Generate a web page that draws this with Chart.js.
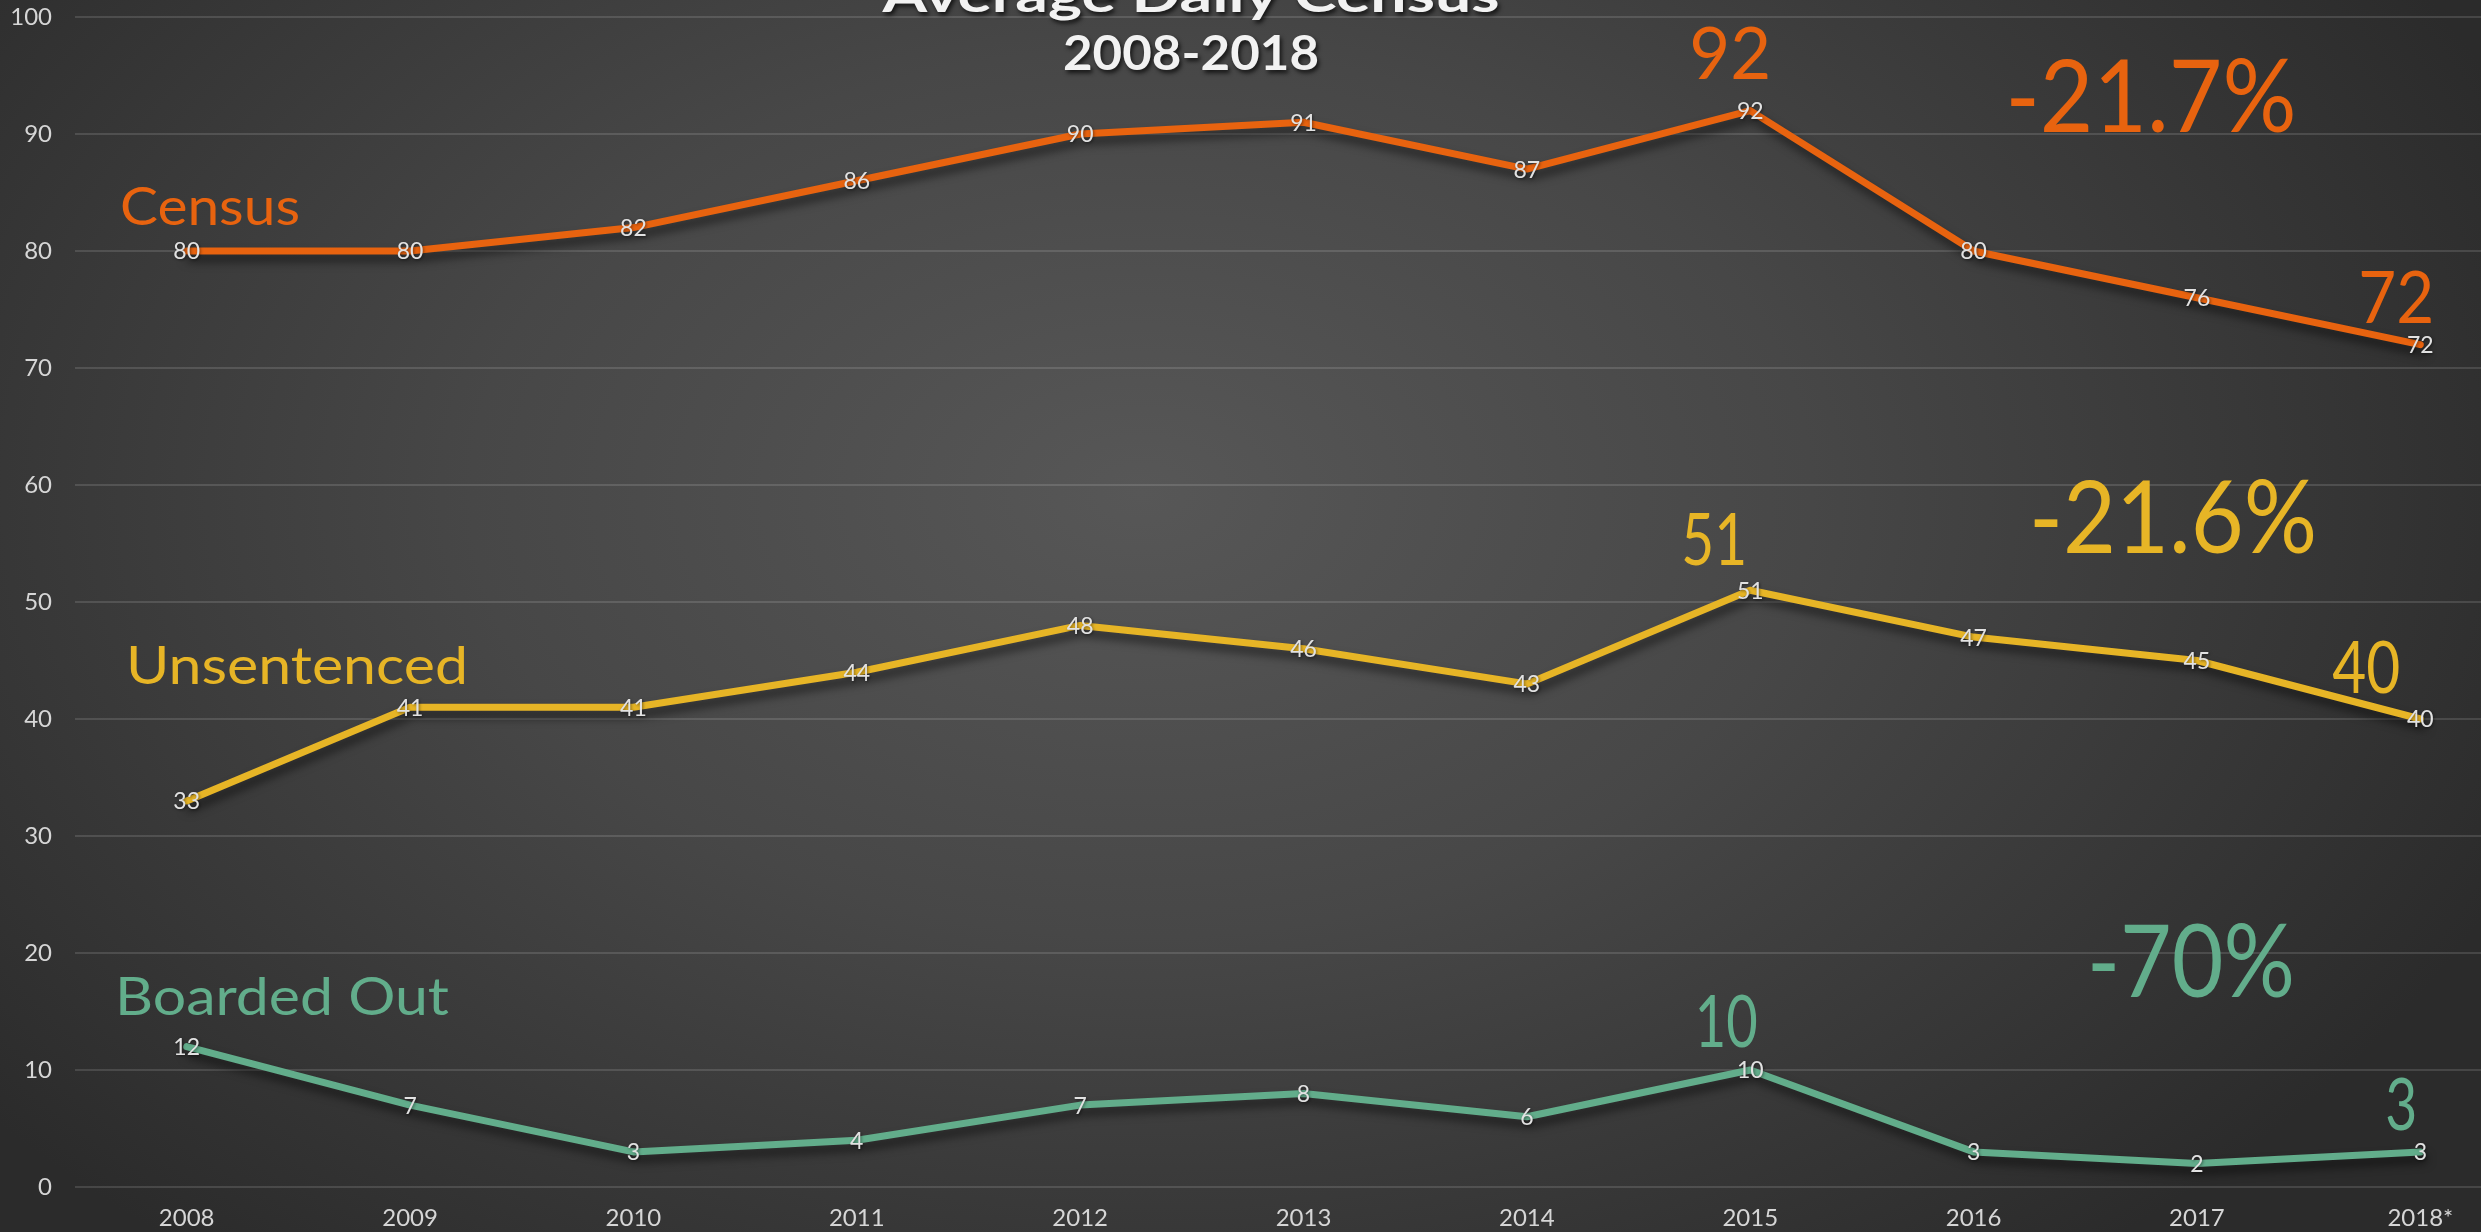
<!DOCTYPE html>
<html>
<head>
<meta charset="utf-8">
<title>Average Daily Census 2008-2018</title>
<script src="https://cdn.jsdelivr.net/npm/chart.js@4.4.1/dist/chart.umd.min.js"></script>
<style>
    html, body {
        margin: 0;
        padding: 0;
        width: 2481px;
        height: 1232px;
        overflow: hidden;
        background: radial-gradient(ellipse 60% 80% at 46% 40%, #575757 0%, #474747 45%, #2b2b2b 100%);
    }
    #chart {
        display: block;
        position: absolute;
        left: 0;
        top: 0;
    }
</style>
</head>
<body>
<canvas id="chart" width="2532" height="1232"></canvas>
<script>
// Chart data
const years = ['2008', '2009', '2010', '2011', '2012', '2013', '2014', '2015', '2016', '2017', '2018*'];
const census = [80, 80, 82, 86, 90, 91, 87, 92, 80, 76, 72];
const unsentenced = [33, 41, 41, 44, 48, 46, 43, 51, 47, 45, 40];
const boardedOut = [12, 7, 3, 4, 7, 8, 6, 10, 3, 2, 3];
const yTicks = [0, 10, 20, 30, 40, 50, 60, 70, 80, 90, 100];
const changes = ['-21.7%', '-21.6%', '-70%'];

const ORANGE = '#e8630f';
const YELLOW = '#e7b526';
const GREEN = '#62ad8b';
const FONT = 'Lato, "Open Sans", sans-serif';

// Draw text, optionally squeezed/stretched to a target width
function drawText(ctx, text, x, y, size, color, opts) {
    opts = opts || {};
    ctx.save();
    ctx.font = (opts.weight || 'normal') + ' ' + size + 'px ' + FONT;
    ctx.fillStyle = color;
    ctx.textBaseline = 'alphabetic';
    ctx.textAlign = 'left';
    if (opts.shadow) {
        ctx.shadowColor = 'rgba(0,0,0,0.7)';
        ctx.shadowOffsetX = 2;
        ctx.shadowOffsetY = 3;
        ctx.shadowBlur = 4;
    }
    const w = ctx.measureText(text).width;
    const sx = opts.width ? opts.width / w : 1;
    const drawnW = w * sx;
    let left = x;
    if (opts.align === 'center') left = x - drawnW / 2;
    if (opts.align === 'right') left = x - drawnW;
    ctx.translate(left, y);
    ctx.scale(sx, 1);
    ctx.fillText(text, 0, 0);
    ctx.restore();
}

// Soft drop shadow under the lines
const lineShadow = {
    id: 'lineShadow',
    beforeDatasetsDraw(chart) {
        const ctx = chart.ctx;
        ctx.save();
        ctx.shadowColor = 'rgba(0,0,0,0.55)';
        ctx.shadowBlur = 10;
        ctx.shadowOffsetX = 3;
        ctx.shadowOffsetY = 7;
    },
    afterDatasetsDraw(chart) {
        chart.ctx.restore();
    }
};

// Value labels centred on each point
const pointLabels = {
    id: 'pointLabels',
    afterDatasetsDraw(chart) {
        const ctx = chart.ctx;
        ctx.save();
        ctx.font = '23px ' + FONT;
        ctx.fillStyle = '#e2e2e2';
        ctx.textAlign = 'center';
        ctx.textBaseline = 'middle';
        ctx.shadowColor = 'rgba(0,0,0,0.5)';
        ctx.shadowBlur = 3;
        ctx.shadowOffsetX = 1;
        ctx.shadowOffsetY = 1;
        chart.data.datasets.forEach(function (ds, i) {
            chart.getDatasetMeta(i).data.forEach(function (pt, j) {
                ctx.fillText(String(ds.data[j]), pt.x, pt.y + 1);
            });
        });
        ctx.restore();
    }
};

// Title, series names and callouts
const annotations = {
    id: 'annotations',
    afterDraw(chart) {
        const ctx = chart.ctx;
        const xs = chart.scales.x;
        const ys = chart.scales.y;
        const px = function (i) { return xs.getPixelForValue(i); };
        const py = function (v) { return ys.getPixelForValue(v); };
        const last = years.length - 1;
        const peak = years.indexOf('2015');

        // title
        drawText(ctx, 'Average Daily Census', 1191, 12, 48, '#f2f2f2', { weight: 'bold', align: 'center', width: 617, shadow: true });
        drawText(ctx, '2008-2018', 1191, 70, 48, '#f2f2f2', { weight: 'bold', align: 'center', width: 256, shadow: true });

        // series names
        drawText(ctx, 'Census', 120, 225, 53, ORANGE, { width: 180 });
        drawText(ctx, 'Unsentenced', 126, 684, 53, YELLOW, { width: 342 });
        drawText(ctx, 'Boarded Out', 115, 1015, 53, GREEN, { width: 334 });

        // peak and latest values
        drawText(ctx, String(census[peak]), px(peak) - 20, py(census[peak]) - 32, 72, ORANGE, { align: 'center', width: 82 });
        drawText(ctx, String(census[last]), px(last) - 24, py(census[last]) - 22, 72, ORANGE, { align: 'center', width: 76 });
        drawText(ctx, String(unsentenced[peak]), px(peak) - 36, py(unsentenced[peak]) - 25, 72, YELLOW, { align: 'center', width: 66 });
        drawText(ctx, String(unsentenced[last]), px(last) - 54, py(unsentenced[last]) - 26, 72, YELLOW, { align: 'center', width: 68 });
        drawText(ctx, String(boardedOut[peak]), px(peak) - 24, py(boardedOut[peak]) - 23, 72, GREEN, { align: 'center', width: 63 });
        drawText(ctx, String(boardedOut[last]), px(last) - 19, py(boardedOut[last]) - 22, 72, GREEN, { align: 'center', width: 32 });

        // percent change
        drawText(ctx, changes[0], 2151, 132, 100, ORANGE, { align: 'center', width: 291 });
        drawText(ctx, changes[1], 2173, 553, 100, YELLOW, { align: 'center', width: 288 });
        drawText(ctx, changes[2], 2191, 997, 100, GREEN, { align: 'center', width: 208 });
    }
};

function lineDataset(label, data, color) {
    return {
        label: label,
        data: data,
        borderColor: color,
        backgroundColor: color,
        borderWidth: 7,
        pointRadius: 0,
        pointHoverRadius: 0,
        tension: 0,
        borderJoinStyle: 'round',
        borderCapStyle: 'round',
        fill: false
    };
}

const ctx = document.getElementById('chart');
new Chart(ctx, {
    type: 'line',
    data: {
        labels: years,
        datasets: [
            lineDataset('Census', census, ORANGE),
            lineDataset('Unsentenced', unsentenced, YELLOW),
            lineDataset('Boarded Out', boardedOut, GREEN)
        ]
    },
    options: {
        responsive: false,
        animation: false,
        devicePixelRatio: 1,
        layout: { padding: 0 },
        plugins: {
            legend: { display: false },
            title: { display: false },
            tooltip: { enabled: false }
        },
        scales: {
            x: {
                offset: true,
                grid: { display: false, drawTicks: false },
                border: { display: false },
                ticks: {
                    color: '#d6d6d6',
                    font: { family: FONT, size: 24 },
                    padding: 17,
                    maxRotation: 0,
                    autoSkip: false
                },
                afterFit: function (scale) { scale.height = 45; }
            },
            y: {
                min: 0,
                max: 100,
                afterBuildTicks: function (scale) {
                    scale.ticks = yTicks.map(function (v) { return { value: v }; });
                },
                grid: { color: 'rgba(255,255,255,0.13)', lineWidth: 2, drawTicks: false },
                border: { display: false },
                ticks: {
                    color: '#d6d6d6',
                    font: { family: FONT, size: 24 },
                    padding: 23
                },
                afterFit: function (scale) {
                    scale.width = 75;
                    scale.paddingTop = 17;
                    scale.paddingBottom = 0;
                }
            }
        }
    },
    plugins: [lineShadow, pointLabels, annotations]
});
</script>
</body>
</html>
